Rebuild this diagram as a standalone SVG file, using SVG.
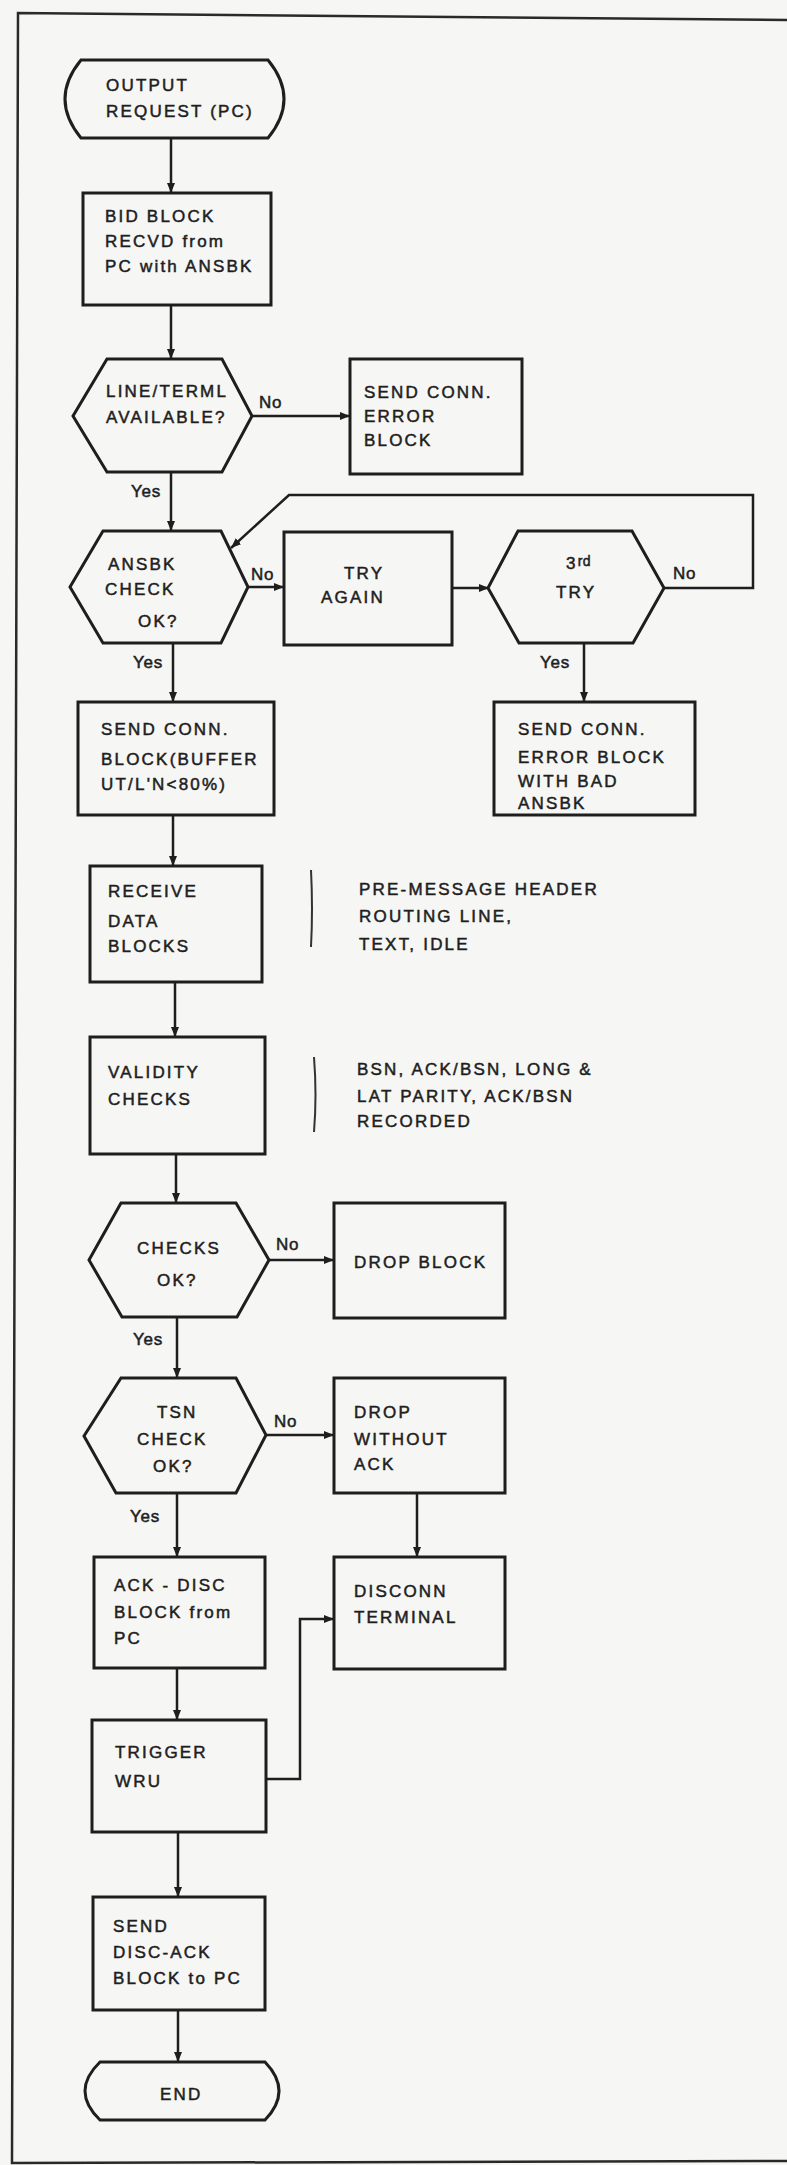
<svg xmlns="http://www.w3.org/2000/svg" width="787" height="2165" viewBox="0 0 787 2165">
<style>
.bg{fill:#f6f6f4}
.frame{fill:none;stroke:#2a2a2a;stroke-width:2.5}
.shape{fill:none;stroke:#1e1e1e;stroke-width:3;stroke-linejoin:miter}
.conn{fill:none;stroke:#1e1e1e;stroke-width:2.5}
.note{fill:none;stroke:#333;stroke-width:2}
text{font-family:"Liberation Sans",Arial,sans-serif;font-size:17px;letter-spacing:2.2px;fill:#1e1e1e;stroke:#1e1e1e;stroke-width:0.5}
.lbl{font-size:17px;letter-spacing:0.8px}
</style>
<defs>
<marker id="arr" markerUnits="userSpaceOnUse" markerWidth="11" markerHeight="8" refX="10" refY="4" orient="auto">
<path d="M0,0 L10,4 L0,8 Z" fill="#1e1e1e"/>
</marker>
</defs>
<rect class="bg" x="0" y="0" width="787" height="2165"/>
<path class="frame" d="M787,20 L18,13 L12,2163 L787,2161"/>

<g id="connectors">
<path class="conn" marker-end="url(#arr)" d="M171,138 V193"/>
<path class="conn" marker-end="url(#arr)" d="M171,305 V359"/>
<path class="conn" marker-end="url(#arr)" d="M251,416 H350"/>
<text class="lbl" x="259" y="408">No</text>
<path class="conn" marker-end="url(#arr)" d="M171,472 V531"/>
<text class="lbl" x="131" y="497">Yes</text>
<path class="conn" marker-end="url(#arr)" d="M248,587 H284"/>
<text class="lbl" x="251" y="580">No</text>
<path class="conn" marker-end="url(#arr)" d="M452,588 H489"/>
<path class="conn" marker-end="url(#arr)" d="M664,588 H753 V495 H289 L231,548"/>
<text class="lbl" x="673" y="579">No</text>
<path class="conn" marker-end="url(#arr)" d="M584,643 V702"/>
<text class="lbl" x="540" y="668">Yes</text>
<path class="conn" marker-end="url(#arr)" d="M173,643 V702"/>
<text class="lbl" x="133" y="668">Yes</text>
<path class="conn" marker-end="url(#arr)" d="M173,815 V866"/>
<path class="conn" marker-end="url(#arr)" d="M175,982 V1037"/>
<path class="conn" marker-end="url(#arr)" d="M176,1154 V1203"/>
<path class="conn" marker-end="url(#arr)" d="M269,1260 H334"/>
<text class="lbl" x="276" y="1250">No</text>
<path class="conn" marker-end="url(#arr)" d="M177,1317 V1378"/>
<text class="lbl" x="133" y="1345">Yes</text>
<path class="conn" marker-end="url(#arr)" d="M266,1435 H334"/>
<text class="lbl" x="274" y="1427">No</text>
<path class="conn" marker-end="url(#arr)" d="M177,1493 V1557"/>
<text class="lbl" x="130" y="1522">Yes</text>
<path class="conn" marker-end="url(#arr)" d="M417,1493 V1557"/>
<path class="conn" marker-end="url(#arr)" d="M177,1668 V1720"/>
<path class="conn" marker-end="url(#arr)" d="M266,1779 H300 V1619 H334"/>
<path class="conn" marker-end="url(#arr)" d="M178,1832 V1897"/>
<path class="conn" marker-end="url(#arr)" d="M178,2010 V2062"/>
</g>

<g id="n-output-request">
<path class="shape" d="M81,60 H268 Q300,99 268,138 H81 Q49,99 81,60 Z"/>
<text x="106" y="91">OUTPUT</text>
<text x="106" y="117">REQUEST (PC)</text>
</g>

<g id="n-bid-block">
<rect class="shape" x="83" y="193" width="188" height="112"/>
<text x="105" y="222">BID BLOCK</text>
<text x="105" y="247">RECVD from</text>
<text x="105" y="272">PC with ANSBK</text>
</g>

<g id="n-line-available">
<path class="shape" d="M107,359 H222 L252,416 L222,472 H107 L73,416 Z"/>
<text x="106" y="397">LINE/TERML</text>
<text x="106" y="423">AVAILABLE?</text>
</g>

<g id="n-send-conn-error">
<rect class="shape" x="350" y="359" width="172" height="115"/>
<text x="364" y="398">SEND CONN.</text>
<text x="364" y="422">ERROR</text>
<text x="364" y="446">BLOCK</text>
</g>

<g id="n-ansbk-check">
<path class="shape" d="M103,531 H221 L248,587 L221,643 H103 L70,587 Z"/>
<text x="108" y="570">ANSBK</text>
<text x="105" y="595">CHECK</text>
<text x="138" y="627">OK?</text>
</g>

<g id="n-try-again">
<rect class="shape" x="284" y="532" width="168" height="113"/>
<text x="344" y="579">TRY</text>
<text x="321" y="603">AGAIN</text>
</g>

<g id="n-third-try">
<path class="shape" d="M518,531 H632 L664,588 L633,643 H519 L488,588 Z"/>
<text x="566" y="569">3<tspan font-size="14" dy="-3" letter-spacing="0.5">rd</tspan></text>
<text x="556" y="598">TRY</text>
</g>

<g id="n-send-conn-error-bad">
<rect class="shape" x="494" y="702" width="201" height="113"/>
<text x="518" y="735">SEND CONN.</text>
<text x="518" y="763">ERROR BLOCK</text>
<text x="518" y="787">WITH BAD</text>
<text x="518" y="809">ANSBK</text>
</g>

<g id="n-send-conn-block">
<rect class="shape" x="78" y="702" width="196" height="113"/>
<text x="101" y="735">SEND CONN.</text>
<text x="101" y="765">BLOCK(BUFFER</text>
<text x="101" y="790">UT/L'N&lt;80%)</text>
</g>

<g id="n-receive-data">
<rect class="shape" x="90" y="866" width="172" height="116"/>
<text x="108" y="897">RECEIVE</text>
<text x="108" y="927">DATA</text>
<text x="108" y="952">BLOCKS</text>
</g>

<g id="n-receive-note">
<path class="note" d="M311,870 Q313,909 311,947"/>
<text x="359" y="895">PRE-MESSAGE HEADER</text>
<text x="359" y="922">ROUTING LINE,</text>
<text x="359" y="950">TEXT, IDLE</text>
</g>

<g id="n-validity">
<rect class="shape" x="90" y="1037" width="175" height="117"/>
<text x="108" y="1078">VALIDITY</text>
<text x="108" y="1105">CHECKS</text>
</g>

<g id="n-validity-note">
<path class="note" d="M314,1057 Q317,1095 314,1132"/>
<text x="357" y="1075">BSN, ACK/BSN, LONG &amp;</text>
<text x="357" y="1102">LAT PARITY, ACK/BSN</text>
<text x="357" y="1127">RECORDED</text>
</g>

<g id="n-checks-ok">
<path class="shape" d="M121,1203 H236 L269,1260 L237,1317 H122 L89,1260 Z"/>
<text x="137" y="1254">CHECKS</text>
<text x="157" y="1286">OK?</text>
</g>

<g id="n-drop-block">
<rect class="shape" x="334" y="1203" width="171" height="115"/>
<text x="354" y="1268">DROP BLOCK</text>
</g>

<g id="n-tsn-check">
<path class="shape" d="M121,1378 H236 L266,1435 L236,1493 H116 L84,1436 Z"/>
<text x="157" y="1418">TSN</text>
<text x="137" y="1445">CHECK</text>
<text x="153" y="1472">OK?</text>
</g>

<g id="n-drop-without-ack">
<rect class="shape" x="334" y="1378" width="171" height="115"/>
<text x="354" y="1418">DROP</text>
<text x="354" y="1445">WITHOUT</text>
<text x="354" y="1470">ACK</text>
</g>

<g id="n-ack-disc">
<rect class="shape" x="94" y="1557" width="171" height="111"/>
<text x="114" y="1591">ACK - DISC</text>
<text x="114" y="1618">BLOCK from</text>
<text x="114" y="1644">PC</text>
</g>

<g id="n-disconn">
<rect class="shape" x="334" y="1557" width="171" height="112"/>
<text x="354" y="1597">DISCONN</text>
<text x="354" y="1623">TERMINAL</text>
</g>

<g id="n-trigger-wru">
<rect class="shape" x="92" y="1720" width="174" height="112"/>
<text x="115" y="1758">TRIGGER</text>
<text x="115" y="1787">WRU</text>
</g>

<g id="n-send-disc-ack">
<rect class="shape" x="93" y="1897" width="172" height="113"/>
<text x="113" y="1932">SEND</text>
<text x="113" y="1958">DISC-ACK</text>
<text x="113" y="1984">BLOCK to PC</text>
</g>

<g id="n-end">
<path class="shape" d="M100,2062 H265 Q293,2091 265,2120 H100 Q70,2091 100,2062 Z"/>
<text x="160" y="2100">END</text>
</g>
</svg>
